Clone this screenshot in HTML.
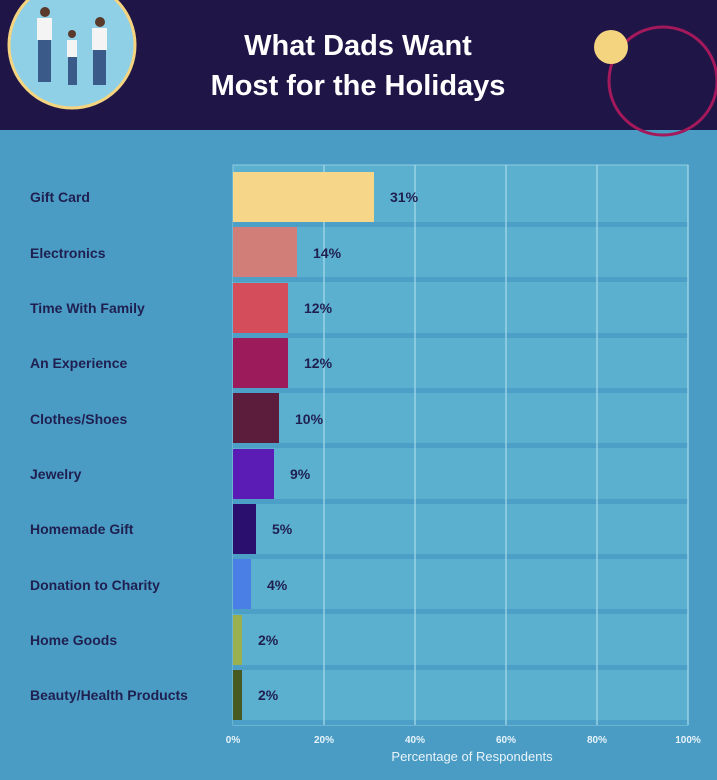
<!DOCTYPE html>
<html><head><style>
body{margin:0;width:717px;height:780px;overflow:hidden;background:#4a9cc4;font-family:"Liberation Sans",sans-serif;}
</style></head><body>
<svg width="717" height="780" xmlns="http://www.w3.org/2000/svg" style="position:absolute;left:0;top:0">
<rect x="0" y="0" width="717" height="130" fill="#1f1647"/>
<rect x="0" y="130" width="717" height="650" fill="#4a9cc4"/>
<circle cx="72" cy="45" r="63" fill="#8fd0e6" stroke="#f5d480" stroke-width="3"/>
<g fill="#f4f4f4"><rect x="37" y="18" width="15" height="22"/><rect x="67" y="40" width="10" height="17"/><rect x="92" y="28" width="15" height="22"/></g>
<g fill="#3a5a8a"><rect x="38" y="40" width="13" height="42"/><rect x="68" y="57" width="9" height="28"/><rect x="93" y="50" width="13" height="35"/></g>
<g fill="#5a3a2a"><circle cx="45" cy="12" r="5"/><circle cx="72" cy="34" r="4"/><circle cx="100" cy="22" r="5"/></g>
<text x="358" y="55" fill="#fff" font-size="29" font-weight="bold" text-anchor="middle">What Dads Want</text>
<text x="358" y="95" fill="#fff" font-size="29" font-weight="bold" text-anchor="middle">Most for the Holidays</text>
<circle cx="663" cy="81" r="54" fill="none" stroke="#a3195b" stroke-width="3"/>
<circle cx="611" cy="47" r="17" fill="#f5d480"/>
<rect x="233" y="165" width="455" height="560" fill="#5cb0cf" stroke="#8ccbe0" stroke-width="1"/>
<g fill="#4c9fc6">
<rect x="233" y="222" width="455" height="5"/><rect x="233" y="277" width="455" height="5"/><rect x="233" y="333" width="455" height="5"/><rect x="233" y="388" width="455" height="5"/><rect x="233" y="443" width="455" height="5"/><rect x="233" y="499" width="455" height="5"/><rect x="233" y="554" width="455" height="5"/><rect x="233" y="609" width="455" height="5"/><rect x="233" y="665" width="455" height="5"/><rect x="233" y="720" width="455" height="5"/>
</g>
<g stroke="#a8dbec" stroke-width="1.2">
<line x1="324" y1="165" x2="324" y2="725"/><line x1="415" y1="165" x2="415" y2="725"/><line x1="506" y1="165" x2="506" y2="725"/><line x1="597" y1="165" x2="597" y2="725"/><line x1="688" y1="165" x2="688" y2="725"/>
</g>
<rect x="233" y="172" width="141" height="50" fill="#f6d789"/>
<rect x="233" y="227" width="64" height="50" fill="#d07e77"/>
<rect x="233" y="283" width="55" height="50" fill="#d44d5a"/>
<rect x="233" y="338" width="55" height="50" fill="#9b1b5b"/>
<rect x="233" y="393" width="46" height="50" fill="#5c1c3b"/>
<rect x="233" y="449" width="41" height="50" fill="#5b1bb5"/>
<rect x="233" y="504" width="23" height="50" fill="#2a0f6e"/>
<rect x="233" y="559" width="18" height="50" fill="#4a7fe6"/>
<rect x="233" y="615" width="9" height="50" fill="#9ab050"/>
<rect x="233" y="670" width="9" height="50" fill="#465a22"/>
<g fill="#1f1f50" font-size="14" font-weight="bold">
<text x="390" y="202">31%</text><text x="313" y="258">14%</text><text x="304" y="313">12%</text><text x="304" y="368">12%</text><text x="295" y="424">10%</text><text x="290" y="479">9%</text><text x="272" y="534">5%</text><text x="267" y="590">4%</text><text x="258" y="645">2%</text><text x="258" y="700">2%</text>
</g>
<g fill="#1f1f50" font-size="14" font-weight="bold">
<text x="30" y="202">Gift Card</text><text x="30" y="258">Electronics</text><text x="30" y="313">Time With Family</text><text x="30" y="368">An Experience</text><text x="30" y="424">Clothes/Shoes</text><text x="30" y="479">Jewelry</text><text x="30" y="534">Homemade Gift</text><text x="30" y="590">Donation to Charity</text><text x="30" y="645">Home Goods</text><text x="30" y="700">Beauty/Health Products</text>
</g>
<g fill="#e8f4fa" font-size="10" font-weight="bold" text-anchor="middle">
<text x="233" y="743">0%</text><text x="324" y="743">20%</text><text x="415" y="743">40%</text><text x="506" y="743">60%</text><text x="597" y="743">80%</text><text x="688" y="743">100%</text>
</g>
<text x="472" y="761" fill="#e8f4fa" font-size="13" text-anchor="middle">Percentage of Respondents</text>
</svg>
</body></html>
